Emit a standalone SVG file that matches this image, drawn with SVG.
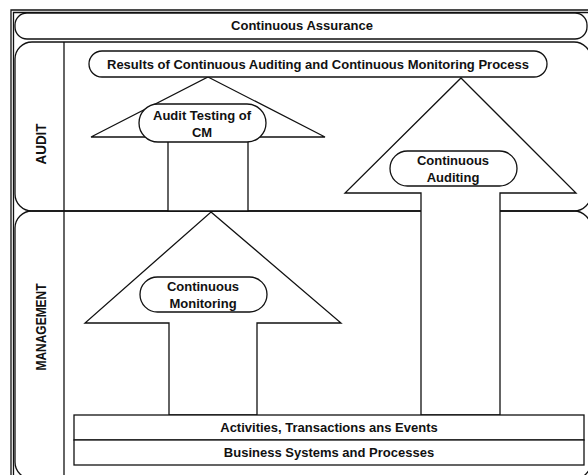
<svg xmlns="http://www.w3.org/2000/svg" width="588" height="475" viewBox="0 0 588 475">
<style>
.ln{fill:none;stroke:#111;stroke-width:1.3}
.bx{fill:#fff;stroke:#111;stroke-width:1.3}
.t{font-family:"Liberation Sans",Arial,sans-serif;font-weight:bold;font-size:13px;fill:#111;text-anchor:middle}
.v{font-size:15px}
</style>
<rect width="588" height="475" fill="#fff"/>
<g id="frame">
<path class="ln" d="M11,475 V10 H588" stroke-width="1.2"/>
<path class="ln" d="M13.5,475 V12.5 H588" stroke="#555" stroke-width="0.8"/>
</g>
<g id="continuous-assurance">
<rect class="bx" x="15" y="13" width="572" height="26" rx="12"/>
<text class="t" x="302" y="30">Continuous Assurance</text>
</g>
<g id="audit">
<rect class="ln" x="15" y="42" width="576" height="169" rx="17"/>
<line class="ln" x1="64" y1="42" x2="64" y2="211"/>
<text class="t v" transform="translate(45.5,144) rotate(-90)" textLength="41" lengthAdjust="spacingAndGlyphs">AUDIT</text>
</g>
<g id="management">
<rect class="ln" x="15" y="211" width="576" height="268" rx="17"/>
<line class="ln" x1="64" y1="211" x2="64" y2="475"/>
<text class="t v" transform="translate(45.5,327) rotate(-90)" textLength="87" lengthAdjust="spacingAndGlyphs">MANAGEMENT</text>
</g>
<g id="connectors">
<polygon id="arrow-audit-testing" class="bx" points="208,77 325,137 248,137 248,211 168,211 168,137 91,137"/>
<polygon id="arrow-continuous-auditing" class="bx" points="461,78 576,193 500,193 500,415 421,415 421,193 345,193"/>
<polygon id="arrow-continuous-monitoring" class="bx" points="211,212 341,323 257,323 257,415 169,415 169,323 85,323"/>
</g>
<g id="results">
<rect class="bx" x="89" y="51" width="458" height="26" rx="13"/>
<text class="t" x="318" y="68.5">Results of Continuous Auditing and Continuous Monitoring Process</text>
</g>
<g id="audit-testing">
<rect class="bx" x="139" y="104" width="127" height="38" rx="19"/>
<text class="t" x="202" y="119.5">Audit Testing of</text>
<text class="t" x="202" y="136.5">CM</text>
</g>
<g id="continuous-auditing">
<rect class="bx" x="390" y="151" width="127" height="35" rx="17.5"/>
<text class="t" x="453" y="164.5">Continuous</text>
<text class="t" x="453" y="181.5">Auditing</text>
</g>
<g id="continuous-monitoring">
<rect class="bx" x="140" y="277" width="127" height="35" rx="17.5"/>
<text class="t" x="203" y="290.5">Continuous</text>
<text class="t" x="203" y="307.5">Monitoring</text>
</g>
<g id="activities">
<rect class="bx" x="74" y="415" width="510" height="25"/>
<text class="t" x="329" y="432">Activities, Transactions ans Events</text>
</g>
<g id="business">
<rect class="bx" x="74" y="440" width="510" height="25"/>
<text class="t" x="329" y="457">Business Systems and Processes</text>
</g>
</svg>
